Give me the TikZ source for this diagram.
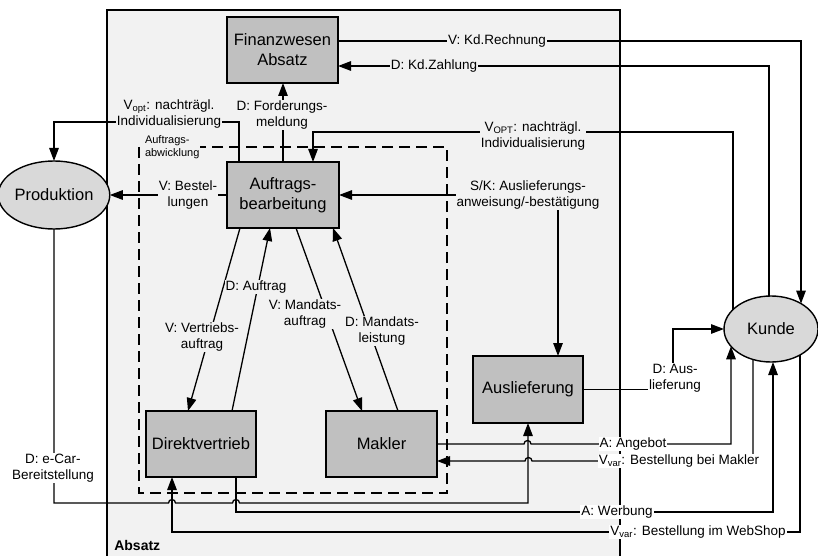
\documentclass[tikz,border=0pt]{standalone}
\usepackage{fontspec}
\setmainfont{Liberation Sans}
\usetikzlibrary{arrows.meta,calc,shapes.geometric}
\definecolor{absatzbg}{HTML}{F2F2F2}
\definecolor{boxgray}{HTML}{C0C0C0}
\definecolor{ellgray}{HTML}{D9D9D9}
\begin{document}
\begin{tikzpicture}[x=1pt,y=-1pt,
  every node/.style={outer sep=0pt},
  unit/.style={draw, line width=1.4pt, fill=boxgray, minimum width=111pt,
    minimum height=66pt, align=center, inner sep=1pt,
    font=\fontsize{16.5}{20}\selectfont},
  party/.style={ellipse, draw, line width=1.4pt, fill=ellgray, inner sep=0pt,
    font=\fontsize{16.5}{20}\selectfont},
  flow/.style={line width=1.3pt, -{Triangle[length=13pt,width=9.5pt]}},
  lbl/.style={font=\fontsize{13.5}{16}\selectfont, align=center, inner sep=1pt,
    fill=absatzbg},
  lblw/.style={lbl, fill=white},
  hop/.style={radius=3.5pt}
]
\useasboundingbox (0,0) rectangle (818,556);
\clip (0,0) rectangle (818,556);

% department area
\node[draw, line width=1.4pt, fill=absatzbg, anchor=north west,
  minimum width=513pt, minimum height=600pt] (absatz) at (107,10) {};
\node[font=\bfseries\fontsize{14}{16}\selectfont, anchor=west] (absatzlbl)
  at (111,545) {Absatz};

% order handling group
\draw[line width=1.4pt, dash pattern=on 11pt off 6pt] (139,147) rectangle (447,493);
\node[font=\fontsize{11}{13}\selectfont, align=left, fill=absatzbg, inner sep=1pt,
  anchor=west] (abw) at (144,147) {Auftrags-\\abwicklung};

% units
\node[unit] (fin) at (282.5,50) {Finanzwesen\\Absatz};
\node[unit, minimum width=112pt] (auf) at (283,195) {Auftrags-\\bearbeitung};
\node[unit, minimum width=110pt] (dir) at (201,444) {Direktvertrieb};
\node[unit] (mak) at (381.5,444) {Makler};
\node[unit, minimum width=110pt, minimum height=67pt] (aus) at (528,389.5) {Auslieferung};

% external parties
\node[party, minimum width=101pt, minimum height=68pt] (prod) at (54,195) {Produktion};
\node[party, minimum width=94pt, minimum height=66pt] (kun) at (771,329) {Kunde};

% attach points on the customer ellipse
\coordinate (kt1) at ($(kun.center)+(-38,-19.4)$);
\coordinate (kt2) at ($(kun.center)+(-2,-33)$);
\coordinate (kt3) at ($(kun.center)+(30,-25.4)$);
\coordinate (kb1) at ($(kun.center)+(-40,17.3)$);
\coordinate (kb2) at ($(kun.center)+(-18,30.5)$);
\coordinate (kb3) at ($(kun.center)+(2,33)$);
\coordinate (kb4) at ($(kun.center)+(29,26)$);

% invoicing and payment
\draw[flow] (fin.east |- 0,41) -- (801,41) -- (kt3);
\node[lbl] (rech) at (497,41) {V: Kd.Rechnung};
\draw[flow] (kt2) -- (769,66) -- (fin.east |- 0,66);
\node[lbl] (zahl) at (434,66) {D: Kd.Zahlung};

% later customisation requested by the customer
\draw[flow] (kt1) -- (733,132) -- (313,132) -- (auf.north -| 313,0);
\node[lbl] (voptr) at (533,136) {V\textsubscript{OPT}: nachträgl.\\Individualisierung};

% receivables
\draw[flow] (auf.north) -- (auf.north |- fin.south);
\node[lbl] (ford) at (282,115) {D: Forderungs-\\meldung};

% customisation passed to production
\draw[flow] (auf.north -| 239,0) -- (239,122) -- (prod.north |- 0,122) -- (prod.north);
\node[lbl] (voptl) at (169,114) {V\textsubscript{opt}: nachträgl.\\Individualisierung};

% orders to production
\draw[flow] (auf.west) -- (prod.east);
\node[lbl] (best) at (188,195) {V: Bestel-\\lungen};

% delivery instruction / confirmation
\coordinate (skc) at (558,195);
\draw[flow] (skc) -- (auf.east);
\draw[flow] (skc) -- (aus.north -| skc);
\node[lbl] (sk) at (528,195) {S/K: Auslieferungs-\\anweisung/-bestätigung};

% sales channels
\draw[flow] (auf.south -| 240,0) -- (dir.north -| 188,0);
\node[lbl] (vertr) at (202,337) {V: Vertriebs-\\auftrag};
\draw[flow] (dir.north -| 232,0) -- (auf.south -| 270,0);
\node[lbl] (dauf) at (256,287) {D: Auftrag};
\draw[flow] (auf.south -| 296,0) -- (mak.north -| 362,0);
\node[lbl] (mand) at (305,314) {V: Mandats-\\auftrag};
\draw[flow] (mak.north -| 398,0) -- (auf.south -| 333,0);
\node[lbl] (mleist) at (382,331) {D: Mandats-\\leistung};

% delivery to the customer
\draw[flow] (aus.east) -- (673,389.5) -- (673,329) -- (kun.west);
\node[lblw] (dausl) at (675,378) {D: Aus-\\lieferung};

% offers and orders via the broker
\draw[flow] (mak.east) -- (524,444) arc[start angle=180, end angle=0, hop]
  -- (731,444) -- (kb1);
\node[lblw] (angeb) at (633,444) {A: Angebot};
\draw[flow] (kb2) -- (753,461) -- (532,461) arc[start angle=0, end angle=180, hop]
  -- (mak.east |- 0,461);
\node[lblw] (vmak) at (679,461) {V\textsubscript{var}: Bestellung bei Makler};

% advertising and web shop orders
\draw[flow] (dir.south -| 236,0) -- (236,512) -- (773,512) -- (kb3);
\node[lblw] (werb) at (617,512) {A: Werbung};
\draw[flow] (kb4) -- (800,532) -- (172,532) -- (dir.south -| 172,0);
\node[lblw] (vweb) at (698,532) {V\textsubscript{var}: Bestellung im WebShop};

% vehicle supply from production
\draw[flow] (prod.south) -- (54,503) -- (168.5,503) arc[start angle=180, end angle=0, hop]
  -- (232.5,503) arc[start angle=180, end angle=0, hop] -- (528,503) -- (aus.south);
\node[lblw] (ecar) at (53,468) {D: e-Car-\\Bereitstellung};
\end{tikzpicture}
\end{document}
